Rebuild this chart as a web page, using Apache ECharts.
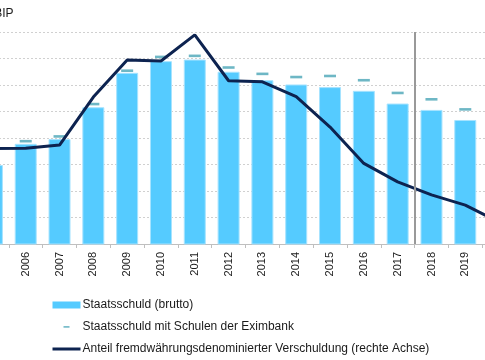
<!DOCTYPE html>
<html>
<head>
<meta charset="utf-8">
<script src="https://cdn.jsdelivr.net/npm/echarts@6/dist/echarts.min.js"></script>
<style>
html,body{margin:0;padding:0;background:#fff;overflow:hidden;width:485px;height:360px;position:relative;}
#chart{width:541px;height:360px;position:absolute;left:-25.5px;top:0;}
</style>
</head>
<body>
<div id="chart"></div>
<script>
// Data
var years = ['2005','2006','2007','2008','2009','2010','2011','2012','2013','2014','2015','2016','2017','2018','2019','2020'];
var debtGross = [59.9, 63.9, 64.8, 70.8, 77.3, 79.5, 79.8, 77.5, 75.9, 75.1, 74.6, 73.9, 71.5, 70.3, 68.4, null];
var debtWithEximbank = [null, 64.4, 65.3, 71.4, 77.7, 80.3, 80.5, 78.3, 77.1, 76.5, 76.7, 75.9, 73.5, 72.3, 70.4, null];
var fxShare = [27.0, 27.1, 28.0, 41.6, 52.1, 51.8, 59.2, 46.2, 45.9, 41.7, 33.1, 22.8, 17.6, 13.9, 11.0, 6.2];
var forecastStart = '2018';
var seriesNames = ['Staatsschuld (brutto)', 'Staatsschuld mit Schulen der Eximbank', 'Anteil fremdwährungsdenominierter Verschuldung (rechte Achse)'];
var unitLabel = 'in % des BIP';

var chart = echarts.init(document.getElementById('chart'), null, {renderer: 'canvas'});
var font = 'Liberation Sans';
var off = 25.5;
var option = {
  animation: false,
  backgroundColor: '#ffffff',
  textStyle: {fontFamily: font},
  grid: {left: 0, right: 0, top: 32, bottom: 116, containLabel: false},
  graphic: [{
    type: 'text',
    style: {text: unitLabel, x: off + 13, y: 14, align: 'right', verticalAlign: 'middle', font: '12px "Liberation Sans"', fill: '#1a1a1a'}
  }],
  legend: {
    orient: 'vertical',
    left: off + 52,
    top: 298,
    padding: 0,
    itemWidth: 28,
    itemHeight: 7,
    itemGap: 8,
    textStyle: {fontFamily: font, fontSize: 12, color: '#1a1a1a', lineHeight: 14, padding: [0, 0, 0, -3]},
    data: [
      {name: seriesNames[0], icon: 'rect', itemStyle: {borderWidth: 0}},
      {name: seriesNames[1], icon: 'path://M0,0M28,7M11,2.6L17,2.6L17,4.2L11,4.2Z'},
      {name: seriesNames[2], icon: 'path://M0,0M28,7M0,2L28,2L28,5L0,5Z'}
    ]
  },
  xAxis: [{
    type: 'category',
    data: years,
    boundaryGap: true,
    axisLine: {lineStyle: {color: '#bfbfbf', width: 1}},
    axisTick: {show: true, length: 4, lineStyle: {color: '#bfbfbf'}},
    axisLabel: {rotate: 90, margin: 8, fontSize: 11, color: '#1a1a1a', fontFamily: font}
  }, {
    type: 'value', min: 0, max: years.length, show: false
  }],
  yAxis: [{
    type: 'value', min: 45, max: 85, interval: 5,
    axisLabel: {show: false}, axisLine: {show: false}, axisTick: {show: false},
    splitLine: {show: true, lineStyle: {color: '#d0d0d0', type: [2, 2], width: 1}}
  }, {
    type: 'value', min: 0, max: 60, interval: 7.5,
    axisLabel: {show: false}, axisLine: {show: false}, axisTick: {show: false},
    splitLine: {show: false}
  }],
  series: [{
    name: seriesNames[0],
    type: 'bar',
    data: debtGross,
    barWidth: '65%',
    itemStyle: {color: '#55CBFF', borderColor: '#A6E3FF', borderWidth: 1},
    z: 2
  }, {
    name: seriesNames[1],
    type: 'scatter',
    data: debtWithEximbank,
    symbol: 'rect',
    symbolSize: [12, 2.6],
    itemStyle: {color: '#4AA5B7'},
    z: 3
  }, {
    name: seriesNames[2],
    type: 'line',
    yAxisIndex: 1,
    data: fxShare,
    symbol: 'none',
    lineStyle: {color: '#0D2350', width: 3},
    itemStyle: {color: '#0D2350'},
    z: 4
  }, {
    name: 'forecast',
    type: 'line',
    xAxisIndex: 1,
    yAxisIndex: 0,
    data: [],
    markLine: {
      silent: true,
      symbol: ['none', 'none'],
      label: {show: false},
      lineStyle: {color: '#999999', width: 2, type: 'solid'},
      data: [{xAxis: years.indexOf(forecastStart)}]
    },
    z: 1
  }]
};
chart.setOption(option);
</script>
</body>
</html>
